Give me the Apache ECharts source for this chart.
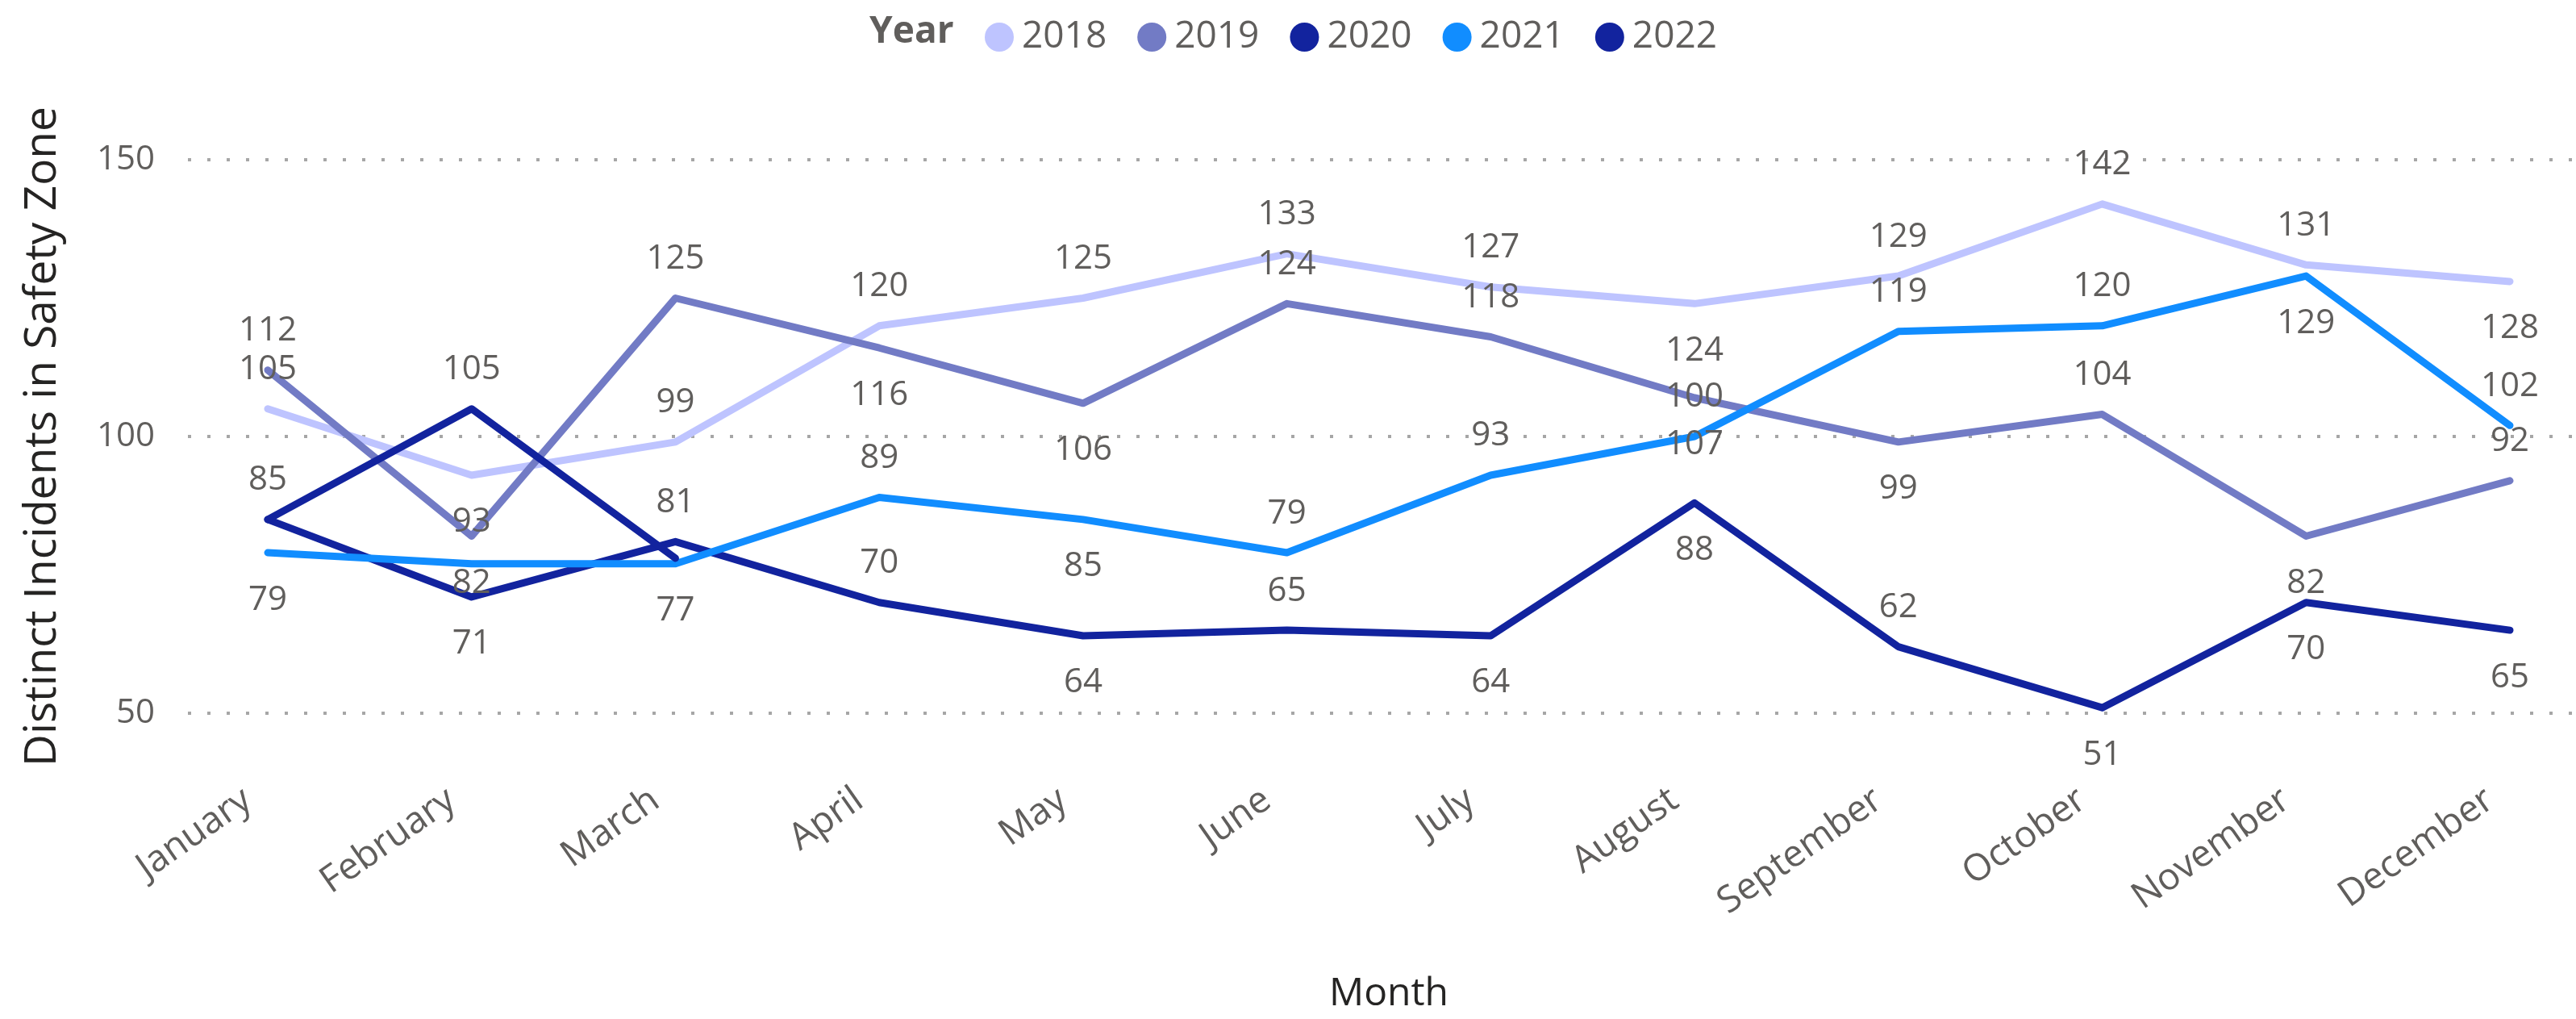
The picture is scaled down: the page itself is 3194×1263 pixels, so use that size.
<!DOCTYPE html>
<html>
<head>
<meta charset="utf-8">
<title>Distinct Incidents in Safety Zone</title>
<script src="https://cdn.jsdelivr.net/npm/echarts@6/dist/echarts.min.js"></script>
<style>
  html, body { margin: 0; padding: 0; background: #fff; }
  #chart { width: 3194px; height: 1263px; }
</style>
</head>
<body>
<div id="chart"></div>
<script>
// 数据
const months = ['January', 'February', 'March', 'April', 'May', 'June', 'July',
  'August', 'September', 'October', 'November', 'December'];
const years = ['2018', '2019', '2020', '2021', '2022'];
const yTicks = [50, 100, 150];

const values2018 = [105, 93, 99, 120, 125, 133, 127, 124, 129, 142, 131, 128];
const values2019 = [112, 82, 125, 116, 106, 124, 118, 107, 99, 104, 82, 92];
const values2020 = [85, 71, 81, 70, 64, 65, 64, 88, 62, 51, 70, 65];
const values2021 = [79, 77, 77, 89, 85, 79, 93, 100, 119, 120, 129, 102];
const values2022 = [85, 105, 78];

// label side per point: t = above, b = below, '' = hidden
const side2018 = ['t', 'b', 't', 't', 't', 't', 't', 'b', 't', 't', 't', 'b'];
const side2019 = ['t', 'b', 't', 'b', 'b', 't', 't', 'b', 'b', 't', 'b', 't'];
const side2020 = ['t', 'b', 't', 't', 'b', 't', 'b', 'b', 't', 'b', 'b', 'b'];
const side2021 = ['b', '', 'b', 't', 'b', 't', 't', 't', 't', 't', 'b', 't'];
const side2022 = ['', 't', ''];

const colors = ['#BEC4FF', '#727BC5', '#12239E', '#118DFF', '#12239E'];

const FONT = 'Open Sans';
const GRAY = '#605E5C';

function buildData(vals, sides) {
  return vals.map((v, i) => {
    const s = sides[i];
    if (!s) return { value: v, label: { show: false } };
    return {
      value: v,
      label: {
        show: true,
        position: s === 't' ? 'top' : 'bottom',
        distance: s === 't' ? 27 : 37
      }
    };
  });
}

const seriesValues = [values2018, values2019, values2020, values2021, values2022];
const seriesSides = [side2018, side2019, side2020, side2021, side2022];

var myChart = echarts.init(document.getElementById('chart'));

const option = {
  animation: false,
  backgroundColor: '#ffffff',
  title: {
    text: 'Year',
    left: 1073,
    top: 12,
    textStyle: { fontFamily: FONT, fontSize: 46, fontWeight: 'bold', color: GRAY }
  },
  legend: {
    data: years,
    left: 1216,
    top: 18,
    icon: 'circle',
    itemWidth: 36,
    itemHeight: 36,
    itemGap: 38,
    selectedMode: false,
    textStyle: {
      fontFamily: FONT,
      fontSize: 46,
      color: GRAY,
      width: 111,
      padding: [0, 0, 0, 5]
    }
  },
  grid: [
    { left: 233, right: 4, top: 198, height: 686 },
    { left: 332, right: 82, top: 198, height: 686 }
  ],
  xAxis: [
    { gridIndex: 0, type: 'value', show: false, min: 0, max: 1 },
    {
      gridIndex: 1,
      type: 'category',
      data: months,
      boundaryGap: false,
      axisLine: { show: false },
      axisTick: { show: false },
      axisLabel: {
        rotate: 35,
        margin: 86,
        fontFamily: FONT,
        fontSize: 46,
        color: GRAY,
        padding: [0, 30, 0, 0]
      },
      name: 'Month',
      nameLocation: 'middle',
      nameGap: 324,
      nameTextStyle: { fontFamily: FONT, fontSize: 48, color: '#252423' }
    }
  ],
  yAxis: [
    {
      gridIndex: 0,
      type: 'value',
      min: yTicks[0],
      max: yTicks[yTicks.length - 1],
      interval: 50,
      axisLine: { show: false },
      axisTick: { show: false },
      axisLabel: { margin: 41, fontFamily: FONT, fontSize: 42, color: GRAY },
      splitLine: {
        lineStyle: { color: '#A6A6A6', width: 4, type: [4, 20] }
      },
      name: 'Distinct Incidents in Safety Zone',
      nameLocation: 'middle',
      nameGap: 152,
      nameTextStyle: { fontFamily: FONT, fontSize: 55, color: '#252423' }
    },
    {
      gridIndex: 1,
      type: 'value',
      min: yTicks[0],
      max: yTicks[yTicks.length - 1],
      show: false
    }
  ],
  series: years.map((y, k) => ({
    name: y,
    type: 'line',
    xAxisIndex: 1,
    yAxisIndex: 1,
    data: buildData(seriesValues[k], seriesSides[k]),
    symbol: 'circle',
    symbolSize: 1,
    color: colors[k],
    lineStyle: { width: 9, color: colors[k], cap: 'round', join: 'round' },
    label: { fontFamily: FONT, fontSize: 42, color: GRAY },
    emphasis: { disabled: true }
  }))
};

option && myChart.setOption(option);
</script>
</body>
</html>
